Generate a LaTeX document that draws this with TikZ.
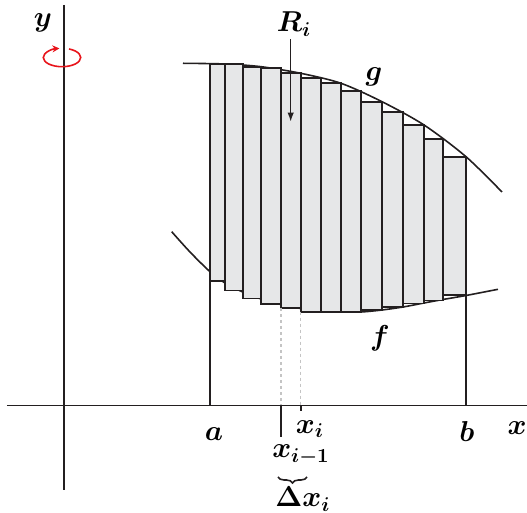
\documentclass[tikz,border=0pt]{standalone}
\usepackage{amsmath,bm}
\usetikzlibrary{decorations.pathreplacing,arrows.meta}
\definecolor{ink}{HTML}{231F20}
\definecolor{fillg}{HTML}{E6E7E8}
\definecolor{dashg}{HTML}{C4C4C4}
\definecolor{rotred}{HTML}{E8141B}
\begin{document}
\begin{tikzpicture}[x=0.5pt,y=-0.5pt,font=\fontsize{13.8}{16}\selectfont,
  lbl/.style={inner sep=0pt},
  rectbox/.style={draw=ink,fill=fillg,line width=0.95pt},
  curve/.style={draw=ink,line width=0.8pt},
  axis/.style={draw=ink,line width=0.95pt},
  guide/.style={draw=dashg,line width=0.6pt,dash pattern=on 1.5pt off 1.5pt},
  pointer/.style={draw=ink,line width=0.7pt,-{Latex[length=4.5pt,width=3.2pt]}},
  rot/.style={draw=rotred,line width=0.8pt,-{Stealth[length=3.5pt,width=3.5pt]}}]
\useasboundingbox (0,0) rectangle (527,513);
% curves
\draw[curve] plot[smooth] coordinates {(183,63.3) (225,64) (261,66.7) (300.7,73.3) (341,83.3) (382,101.7) (424,125) (466,156.7) (502,192)};
\draw[curve] plot[smooth] coordinates {(171.7,231.7) (190,252) (210,271.7) (225,283) (242.7,292) (261,299) (281,304.5) (300.7,308.5) (320.7,311) (341,312) (361,312) (382,310) (403,307) (424,303) (443,299.5) (466,295.5) (498,289.3)};
% rectangles
\foreach \l/\r/\t/\b in {210/225/64/281, 225/242.7/64/290.5, 242.7/261/66.7/298.5, 261/281/68/304, 281/300.7/73.3/308.3, 300.7/320.7/78.3/311.7, 320.7/341/83.3/312, 341/361/90.7/312, 361/382/101.7/310, 382/403/111.7/307, 403/424/125/303.5, 424/443/139/300.5, 443/466/156.7/295}
  \draw[rectbox] (\l,\t) rectangle (\r,\b);
% axes
\coordinate (xl) at (7,405.5);
\coordinate (xr) at (527,405.5);
\coordinate (yt) at (64,5);
\coordinate (yb) at (64,490);
\draw[axis] (xl) -- (xr);
\draw[axis] (yt) -- (yb);
% bounds
\coordinate (atop) at (210,281);
\coordinate (abot) at (210,405.5);
\coordinate (btop) at (466,295);
\coordinate (bbot) at (466,405.5);
\draw[axis] (atop) -- (abot);
\draw[axis] (btop) -- (bbot);
% guides
\coordinate (g1t) at (281,308.3);
\coordinate (g1b) at (281,405.5);
\coordinate (g2t) at (300.7,311.7);
\coordinate (g2b) at (300.7,405.5);
\draw[guide] (g1t) -- (g1b);
\draw[guide] (g2t) -- (g2b);
\coordinate (t1) at (281,437);
\coordinate (t2) at (300.7,411.5);
\draw[axis] (g1b) -- (t1);
\draw[axis] (g2b) -- (t2);
% rotation arrow
\draw[rot] ([shift={(-68:18.7 and 9.2)}]62,57.5) arc[start angle=-68,end angle=262,x radius=18.7,y radius=9.2];
% labels
\node[lbl] (ylab) at (43,23) {$\bm{y}$};
\node[lbl] (xlab) at (517,428) {$\bm{x}$};
\node[lbl] (alab) at (214,434) {$\bm{a}$};
\node[lbl] (blab) at (467,432) {$\bm{b}$};
\node[lbl] (xi) at (310,429) {$\bm{x_i}$};
\node[lbl] (xim) at (301,455) {$\bm{x_{i-1}}$};
\node[lbl] (dx) at (303,499) {$\bm{\Delta x_i}$};
\node[lbl] (Ri) at (294,24) {$\bm{R_i}$};
\node[lbl] (glab) at (374,77) {$\bm{g}$};
\node[lbl] (flab) at (380,338) {$\bm{f}$};
% pointer
\coordinate (Rtip) at (290.7,121.7);
\draw[pointer] (Ri.south -| Rtip) ++(0,3) -- (Rtip);
% brace
\coordinate (brl) at (278,477);
\coordinate (brr) at (307,477);
\draw[ink,line width=0.8pt,decorate,decoration={brace,amplitude=3pt,mirror}] (brl) -- (brr);
\end{tikzpicture}
\end{document}
